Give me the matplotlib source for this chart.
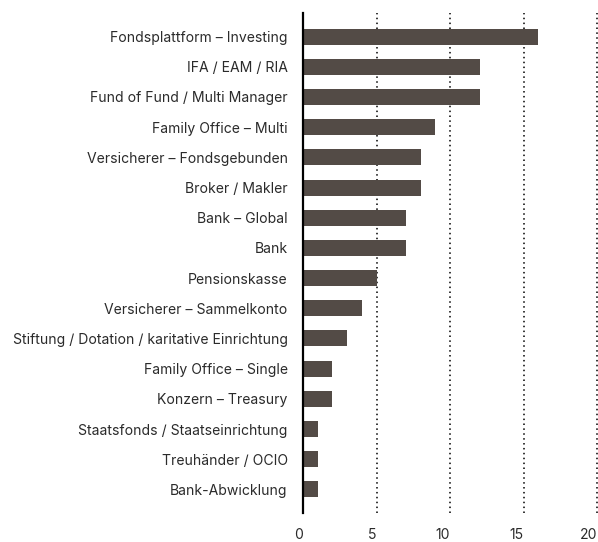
import matplotlib
matplotlib.use("Agg")
import matplotlib.pyplot as plt

# ── data ─────────────────────────────────────────────────────────────────────
categories = [
    "Fondsplattform – Investing",
    "IFA / EAM / RIA",
    "Fund of Fund / Multi Manager",
    "Family Office – Multi",
    "Versicherer – Fondsgebunden",
    "Broker / Makler",
    "Bank – Global",
    "Bank",
    "Pensionskasse",
    "Versicherer – Sammelkonto",
    "Stiftung / Dotation / karitative Einrichtung",
    "Family Office – Single",
    "Konzern – Treasury",
    "Staatsfonds / Staatseinrichtung",
    "Treuhänder / OCIO",
    "Bank-Abwicklung",
]
values = [16, 12, 12, 9, 8, 8, 7, 7, 5, 4, 3, 2, 2, 1, 1, 1]
x_ticks = [0, 5, 10, 15, 20]

BAR_COLOR = "#534b46"
TEXT_COLOR = "#2b2b2b"

plt.rcParams["font.family"] = ["Inter", "DejaVu Sans"]

fig = plt.figure(figsize=(5.98, 5.42), dpi=100)
ax = fig.add_axes([0.5067, 0.0535, 0.4921, 0.9225])

pos = list(range(len(categories)))
ax.barh(pos, values, height=0.53, color=BAR_COLOR, zorder=2)

ax.set_ylim(len(categories) - 1 + 0.78, -0.78)
ax.set_xlim(0, 20)

ax.set_yticks(pos)
ax.set_yticklabels(categories, fontsize=10.1, color=TEXT_COLOR)
ax.set_xticks(x_ticks)
ax.set_xticklabels([str(t) for t in x_ticks], fontsize=10.1, color=TEXT_COLOR,
                   ha="right")
ax.tick_params(axis="y", length=0, pad=11)
ax.tick_params(axis="x", length=0, pad=11)

# dotted vertical guides
for t in x_ticks[1:]:
    ax.axvline(t, color="black", lw=1.1, ls=(0, (1, 2.2)), zorder=1,
               clip_on=False)

for side in ["top", "right", "bottom"]:
    ax.spines[side].set_visible(False)
ax.spines["left"].set_linewidth(1.6)
ax.spines["left"].set_color("black")
ax.spines["left"].set_zorder(3)

fig.savefig("out.png", dpi=100)
plt.close(fig)
